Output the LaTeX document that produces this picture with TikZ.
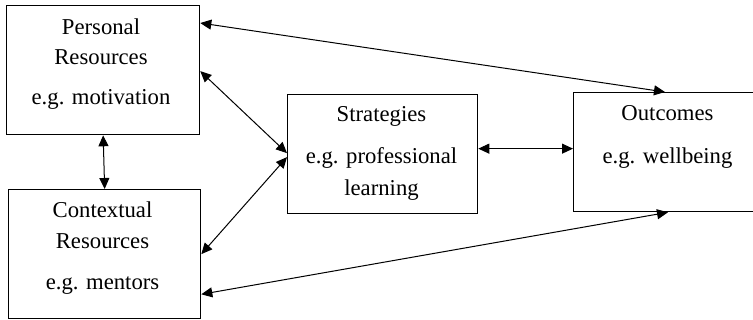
\documentclass[tikz,border=0pt]{standalone}
\usepackage{fontspec}
\setmainfont{Liberation Serif}
\usetikzlibrary{arrows.meta,calc}
\begin{document}
\begin{tikzpicture}[x=1pt,y=-1pt,
  box/.style={draw,line width=1.3pt,rectangle,inner sep=0pt,anchor=north west},
  txt/.style={anchor=base,inner sep=0pt,font=\fontsize{22.7pt}{28pt}\selectfont},
  arr/.style={line width=1pt,{Triangle[length=11pt,width=10pt]}-{Triangle[length=11pt,width=10pt]}}]
\useasboundingbox (0,0) rectangle (753,320);
% boxes
\node[box,minimum width=193pt,minimum height=129pt] (P) at (6,5) {};
\node[box,minimum width=192pt,minimum height=129pt] (C) at (8,189) {};
\node[box,minimum width=190pt,minimum height=119pt] (S) at (287,94) {};
\node[box,minimum width=190pt,minimum height=119pt] (O) at (573,92) {};
% texts
\node[txt] (p1) at (101,34.3) {Personal};
\node[txt] (p2) at (101,65) {Resources};
\node[txt] (p3) at (101,105) {e.g. motivation};
\node[txt] (c1) at (102.5,217.5) {Contextual};
\node[txt] (c2) at (102.5,249) {Resources};
\node[txt] (c3) at (102.5,290) {e.g. mentors};
\node[txt] (s1) at (381.5,122) {Strategies};
\node[txt] (s2) at (381.5,164) {e.g. professional};
\node[txt] (s3) at (381.5,196) {learning};
\node[txt] (o1) at (667.5,121) {Outcomes};
\node[txt] (o2) at (667.5,163.3) {e.g. wellbeing};
% connectors
\draw[arr] (P.south) -- (C.north);
\draw[arr] ($(P.east)+(0,1)$) -- ($(S.west)+(0,-1)$);
\draw[arr] ($(C.east)+(0,0)$) -- ($(S.west)+(0,3)$);
\draw[arr] ($(P.north east)+(0,18)$) -- ($(O.north west)+(92,0)$);
\draw[arr] ($(C.south east)+(0,-25)$) -- ($(O.south west)+(95,0)$);
\draw[arr] ($(S.east)+(0,-5.5)$) -- ($(O.west)+(0,-3.5)$);
\end{tikzpicture}
\end{document}
